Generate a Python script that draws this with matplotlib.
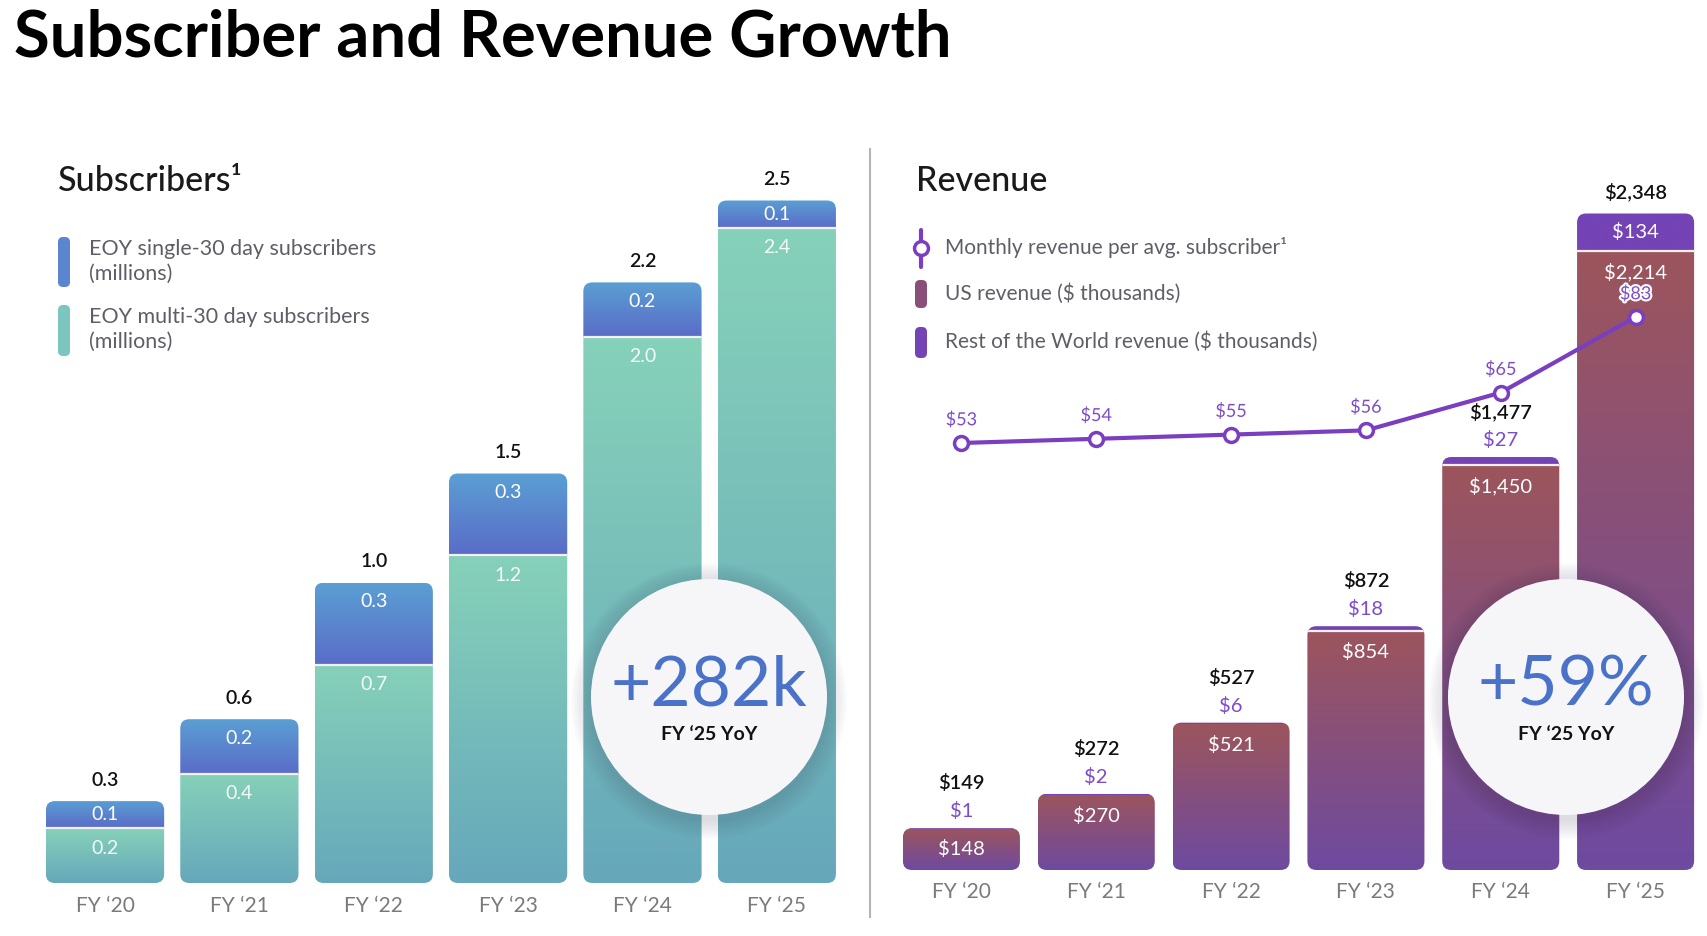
import numpy as np
import matplotlib
matplotlib.use("Agg")
import matplotlib.pyplot as plt
from matplotlib.patches import FancyBboxPatch, Circle
from matplotlib.colors import LinearSegmentedColormap
from matplotlib.transforms import Affine2D
import matplotlib.patheffects as pe

plt.rcParams['font.family'] = ['Lato', 'DejaVu Sans']

years = ["FY ‘20", "FY ‘21", "FY ‘22", "FY ‘23", "FY ‘24", "FY ‘25"]

# subscribers (millions) - heights, labels as printed
multi_subs = [0.20, 0.40, 0.80, 1.20, 2.00, 2.40]
single_subs = [0.10, 0.20, 0.30, 0.30, 0.20, 0.10]
multi_labels = ["0.2", "0.4", "0.7", "1.2", "2.0", "2.4"]
single_labels = ["0.1", "0.2", "0.3", "0.3", "0.2", "0.1"]
total_subs_labels = ["0.3", "0.6", "1.0", "1.5", "2.2", "2.5"]

# revenue ($ thousands) and monthly revenue per avg. subscriber ($)
us_rev = [148, 270, 521, 854, 1450, 2214]
row_rev = [1, 2, 6, 18, 27, 134]
arpu = [53, 54, 55, 56, 65, 83]

subs_yoy = "+282k"
rev_yoy = "+59%"

W, H = 1708, 936
fig = plt.figure(figsize=(W / 100, H / 100), dpi=100)
# pixel coords measured from the top-left corner
PX = Affine2D().scale(1 / 100, -1 / 100).translate(0, H / 100) + fig.dpi_scale_trans


def add_ax(x0, x1, ybot, ytop):
    return fig.add_axes([x0 / W, 1 - ybot / H, (x1 - x0) / W, (ybot - ytop) / H])


def grad_cmap(c_bot, c_top):
    return LinearSegmentedColormap.from_list('g', [c_bot, c_top])


def draw_bar(ax, x, w, segs, px_x, px_y, radius=9):
    total = segs[-1][0] + segs[-1][1]
    shape = FancyBboxPatch((x - w / 2, 0), w, total,
                           boxstyle=f"round,pad=0,rounding_size={radius / px_x}",
                           mutation_aspect=px_x / px_y, fc='none', ec='none')
    ax.add_patch(shape)
    grad = np.linspace(0, 1, 128).reshape(-1, 1)
    for k, (b, h, c_bot, c_top) in enumerate(segs):
        im = ax.imshow(grad, extent=(x - w / 2, x + w / 2, b, b + h), origin='lower',
                       aspect='auto', cmap=grad_cmap(c_bot, c_top), vmin=0, vmax=1,
                       interpolation='bicubic', zorder=2)
        im.set_clip_path(shape)
        if k > 0 and h * px_y > 4:
            ln, = ax.plot([x - w / 2, x + w / 2], [b, b], color='#f4f0f6', lw=1.6, zorder=3)
            ln.set_clip_path(shape)


# ---------------- Subscribers ----------------
s_px_y = 273.0
ax1 = add_ax(37.85, 844, 883, 140)
s_px_x = (844 - 37.85) / 6
for i in range(6):
    m, s = multi_subs[i], single_subs[i]
    draw_bar(ax1, i, 0.88, [(0, m, '#66a8bb', '#86d1b9'), (m, s, '#5b6cc8', '#5a9fd3')], s_px_x, s_px_y)
    ax1.text(i, m + s + 21 / s_px_y, total_subs_labels[i], ha='center', va='center',
             fontsize=14, color='#111111', fontweight='semibold', zorder=6)
    ax1.text(i, max(m + s / 2, m + s - 19 / s_px_y), single_labels[i], ha='center', va='center',
             fontsize=14, color='white', zorder=6)
    ax1.text(i, max(m / 2, m - 20 / s_px_y), multi_labels[i], ha='center', va='center',
             fontsize=14, color='#f2fbf8', zorder=6)
ax1.set_xlim(-0.5, 5.5)
ax1.set_ylim(0, (883 - 140) / s_px_y)
ax1.set_xticks(range(6), years)
ax1.set_yticks([])
ax1.tick_params(axis='x', length=0, pad=9, labelsize=15, labelcolor='#7a7a7a')
for sp in ax1.spines.values():
    sp.set_visible(False)
ax1.patch.set_visible(False)

# ---------------- Revenue ----------------
r_px_y = 0.2796
ax2 = add_ax(894, 1703, 870, 140)
r_px_x = (1703 - 894) / 6
for i in range(6):
    us, rw = us_rev[i], row_rev[i]
    tot = us + rw
    draw_bar(ax2, i, 0.868, [(0, us, '#6e4aa0', '#9c555c'), (us, rw, '#7443b5', '#7443b5')], r_px_x, r_px_y)
    if rw * r_px_y > 25:
        ax2.text(i, us + rw / 2, f"${rw:,}", ha='center', va='center', fontsize=14.5, color='white', zorder=6)
        ax2.text(i, tot + 22 / r_px_y, f"${tot:,}", ha='center', va='center', fontsize=14.5,
                 color='#111111', fontweight='semibold', zorder=6)
    else:
        ax2.text(i, tot + 17 / r_px_y, f"${rw:,}", ha='center', va='center', fontsize=14.5,
                 color='#7d4cc8', zorder=6)
        ax2.text(i, tot + 45 / r_px_y, f"${tot:,}", ha='center', va='center', fontsize=14.5,
                 color='#111111', fontweight='semibold', zorder=6)
    ax2.text(i, max(us / 2, us - 21 / r_px_y), f"${us:,}", ha='center', va='center',
             fontsize=14.5, color='white', zorder=6)
ax2.set_xlim(-0.5, 5.5)
ax2.set_ylim(0, (870 - 140) / r_px_y)
ax2.set_xticks(range(6), years)
ax2.set_yticks([])
ax2.tick_params(axis='x', length=0, pad=9, labelsize=15, labelcolor='#7a7a7a')
for sp in ax2.spines.values():
    sp.set_visible(False)
ax2.patch.set_visible(False)

ax3 = ax2.twinx()
a_px_y = 4.2
ax3.set_ylim(53 - (870 - 443) / a_px_y, 53 + (443 - 140) / a_px_y)
ax3.plot(range(6), arpu, color='#7a3fc0', lw=3, marker='o', ms=10, mfc='white',
         mec='#7a3fc0', mew=2.5, zorder=5, solid_capstyle='round')
for i, v in enumerate(arpu):
    ax3.text(i, v + 23 / a_px_y, f"${v}", ha='center', va='center', fontsize=13, color='#7d4cc8',
             path_effects=[pe.withStroke(linewidth=3, foreground='white')], zorder=7)
ax3.set_axis_off()

# ---------------- titles, legends, divider ----------------
fig.text(14 / W, 1 - 38 / H, "Subscriber and Revenue Growth", fontsize=47, fontweight='bold',
         color='black', va='center', ha='left')
fig.text(58 / W, 1 - 181 / H, "Subscribers¹", fontsize=24.5, color='#1a1a1a', va='center',
         ha='left', fontweight='medium')
fig.text(916 / W, 1 - 181 / H, "Revenue", fontsize=24.5, color='#1a1a1a', va='center',
         ha='left', fontweight='medium')

fig.add_artist(plt.Line2D([870, 870], [149, 917], transform=PX, color='#b5b5b5', lw=1.5))

leg_color = '#5e5e68'
fig.add_artist(FancyBboxPatch((58, 237), 12, 50, boxstyle="round,pad=0,rounding_size=5",
                              transform=PX, fc='#5b86cf', ec='none'))
fig.text(89 / W, 1 - 261 / H, "EOY single-30 day subscribers\n(millions)", fontsize=15.5,
         color=leg_color, va='center', ha='left', linespacing=1.3)
fig.add_artist(FancyBboxPatch((58, 305), 12, 51, boxstyle="round,pad=0,rounding_size=5",
                              transform=PX, fc='#7cc6bd', ec='none'))
fig.text(89 / W, 1 - 329 / H, "EOY multi-30 day subscribers\n(millions)", fontsize=15.5,
         color=leg_color, va='center', ha='left', linespacing=1.3)

fig.add_artist(plt.Line2D([921, 921], [230, 267], transform=PX, color='#7a3fc0', lw=3,
                          solid_capstyle='round'))
fig.add_artist(plt.Line2D([921], [248], transform=PX, marker='o', ms=10, mfc='white',
                          mec='#7a3fc0', mew=2.5))
fig.text(945 / W, 1 - 248 / H, "Monthly revenue per avg. subscriber¹", fontsize=15,
         color=leg_color, va='center', ha='left')
fig.add_artist(FancyBboxPatch((915, 280), 12, 28, boxstyle="round,pad=0,rounding_size=5",
                              transform=PX, fc='#8a4f78', ec='none'))
fig.text(945 / W, 1 - 294 / H, "US revenue ($ thousands)", fontsize=15,
         color=leg_color, va='center', ha='left')
fig.add_artist(FancyBboxPatch((915, 327), 12, 31, boxstyle="round,pad=0,rounding_size=5",
                              transform=PX, fc='#7443b5', ec='none'))
fig.text(945 / W, 1 - 342 / H, "Rest of the World revenue ($ thousands)", fontsize=15,
         color=leg_color, va='center', ha='left')

# ---------------- YoY callout circles ----------------
for cx, big in [(709, subs_yoy), (1566, rev_yoy)]:
    cy, r = 697, 118
    for k in range(10):
        fig.add_artist(Circle((cx, cy + 4), r + 2 + k * 2, transform=PX, fc='#303040',
                              ec='none', alpha=0.015, zorder=9))
    fig.add_artist(Circle((cx, cy), r, transform=PX, fc='#f6f6f9', ec='none', zorder=10))
    fig.text(cx / W, 1 - 686 / H, big, fontsize=50, color='#4a72c8', ha='center', va='center',
             zorder=11)
    fig.text(cx / W, 1 - 735 / H, "FY ‘25 YoY", fontsize=14, color='#111111',
             fontweight='bold', ha='center', va='center', zorder=11)

fig.savefig("out.png", dpi=100, facecolor='white')
